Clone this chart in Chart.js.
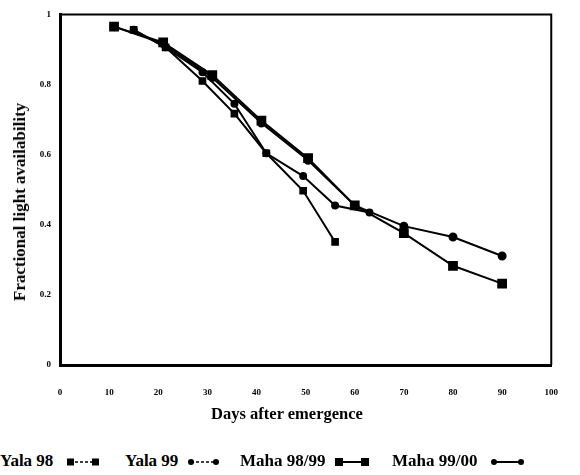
<!DOCTYPE html>
<html>
<head>
<meta charset="utf-8">
<script src="https://cdn.jsdelivr.net/npm/chart.js@4.4.1/dist/chart.umd.min.js"></script>
<style>
  html, body { margin: 0; padding: 0; background: #fff; }
  #wrap { position: relative; width: 580px; height: 475px; }
  #chartBox { position: absolute; left: 0; top: 0; width: 580px; height: 440px; }
  .txt { font-family: "Liberation Serif", "DejaVu Serif", serif; font-weight: bold; color: #000; white-space: nowrap; }
  .leg { position: absolute; top: 451px; font-size: 17px; line-height: 20px; }
  .sym { position: absolute; top: 455px; }
  #xt { position: absolute; left: 287px; top: 414px; font-size: 16.5px; transform: translate(-50%, -50%); }
  #yt { position: absolute; left: 20px; top: 202px; font-size: 17px; transform: translate(-50%, -50%) rotate(-90deg); }
</style>
</head>
<body>
<div id="wrap">
  <div id="chartBox"><canvas id="c" width="580" height="440"></canvas></div>
  <div id="xt" class="txt"></div>
  <div id="yt" class="txt"></div>
  <span class="leg txt" style="left:0px">Yala 98</span>
  <svg class="sym" style="left:66px" width="34" height="14"><line x1="4" y1="7" x2="30" y2="7" stroke="#000" stroke-width="1.5" stroke-dasharray="3,2"/><rect x="1" y="3.5" width="7" height="7" fill="#000"/><rect x="26" y="3.5" width="7" height="7" fill="#000"/></svg>
  <span class="leg txt" style="left:125px">Yala 99</span>
  <svg class="sym" style="left:187px" width="34" height="14"><line x1="4" y1="7" x2="30" y2="7" stroke="#000" stroke-width="1.5" stroke-dasharray="3,2"/><circle cx="4" cy="7" r="3" fill="#000"/><circle cx="29" cy="7" r="3" fill="#000"/></svg>
  <span class="leg txt" style="left:240px">Maha 98/99</span>
  <svg class="sym" style="left:334px" width="36" height="14"><line x1="4" y1="7" x2="32" y2="7" stroke="#000" stroke-width="2"/><rect x="1" y="3" width="8" height="8" fill="#000"/><rect x="27" y="3" width="8" height="8" fill="#000"/></svg>
  <span class="leg txt" style="left:392px">Maha 99/00</span>
  <svg class="sym" style="left:490px" width="36" height="14"><line x1="4" y1="7" x2="32" y2="7" stroke="#000" stroke-width="2"/><circle cx="4" cy="7" r="3" fill="#000"/><circle cx="31" cy="7" r="3" fill="#000"/></svg>
</div>
<script>
// ---- data ----
const yala98Days = [15, 21.5, 29, 35.5, 42, 49.5, 56];
const yala98 = [0.956, 0.906, 0.810, 0.717, 0.604, 0.497, 0.351];

const yala99Days = [15, 21.5, 29, 35.5, 42, 49.5, 56, 63];
const yala99 = [0.956, 0.906, 0.835, 0.745, 0.604, 0.539, 0.455, 0.435];

const maha9899Days = [11, 21, 31, 41, 50.5, 60, 70, 80, 90];
const maha9899 = [0.965, 0.920, 0.827, 0.697, 0.590, 0.455, 0.376, 0.283, 0.232];

const maha9900Days = [11, 21, 31, 41, 50.5, 60, 70, 80, 90];
const maha9900 = [0.965, 0.917, 0.820, 0.690, 0.584, 0.455, 0.396, 0.365, 0.311];

const xTickValues = [0, 10, 20, 30, 40, 50, 60, 70, 80, 90, 100];
const yTickValues = [0, 0.2, 0.4, 0.6, 0.8, 1];

const xTitle = "Days after emergence";
const yTitle = "Fractional light availability";

document.getElementById('xt').textContent = xTitle;
document.getElementById('yt').textContent = yTitle;

function pts(xs, ys) { return xs.map((x, i) => ({ x: x, y: ys[i] })); }

const serif = '"Liberation Serif", "DejaVu Serif", serif';

const boxPlugin = {
  id: 'box',
  afterDatasetsDraw(chart) {
    const a = chart.chartArea, ctx = chart.ctx;
    ctx.save();
    ctx.strokeStyle = '#000';
    ctx.lineWidth = 2;
    ctx.beginPath();
    ctx.moveTo(a.left, a.top);
    ctx.lineTo(a.right, a.top);
    ctx.lineTo(a.right, a.bottom);
    ctx.stroke();
    ctx.restore();
  }
};

new Chart(document.getElementById('c'), {
  type: 'line',
  data: {
    datasets: [
      { label: 'Yala 98', data: pts(yala98Days, yala98), borderColor: '#000', backgroundColor: '#000', borderWidth: 2, pointStyle: 'rect', pointRadius: 4, tension: 0 },
      { label: 'Yala 99', data: pts(yala99Days, yala99), borderColor: '#000', backgroundColor: '#000', borderWidth: 2, pointStyle: 'circle', pointRadius: 3, tension: 0 },
      { label: 'Maha 98/99', data: pts(maha9899Days, maha9899), borderColor: '#000', backgroundColor: '#000', borderWidth: 2, pointStyle: 'rect', pointRadius: 5.5, tension: 0 },
      { label: 'Maha 99/00', data: pts(maha9900Days, maha9900), borderColor: '#000', backgroundColor: '#000', borderWidth: 2, pointStyle: 'circle', pointRadius: 3.5, tension: 0 }
    ]
  },
  options: {
    responsive: false,
    animation: false,
    layout: { padding: { top: 9, right: 25, left: 0, bottom: 0 } },
    plugins: { legend: { display: false }, tooltip: { enabled: false } },
    scales: {
      x: {
        type: 'linear', min: 0, max: 100,
        afterBuildTicks: (axis) => { axis.ticks = xTickValues.map(v => ({ value: v })); },
        afterFit: (axis) => { axis.height = 75; },
        grid: { display: false, drawTicks: false },
        border: { display: true, color: '#000', width: 3 },
        ticks: { color: '#000', padding: 22, font: { family: serif, size: 9, weight: 'bold' }, maxRotation: 0 }
      },
      y: {
        type: 'linear', min: 0, max: 1,
        afterBuildTicks: (axis) => { axis.ticks = yTickValues.map(v => ({ value: v })); },
        afterFit: (axis) => { axis.width = 60; },
        grid: { display: false, drawTicks: false },
        border: { display: true, color: '#000', width: 3 },
        ticks: { color: '#000', padding: 9, font: { family: serif, size: 9, weight: 'bold' },
                 callback: (v) => String(Math.round(v * 10) / 10) }
      }
    }
  },
  plugins: [boxPlugin]
});
</script>
</body>
</html>
